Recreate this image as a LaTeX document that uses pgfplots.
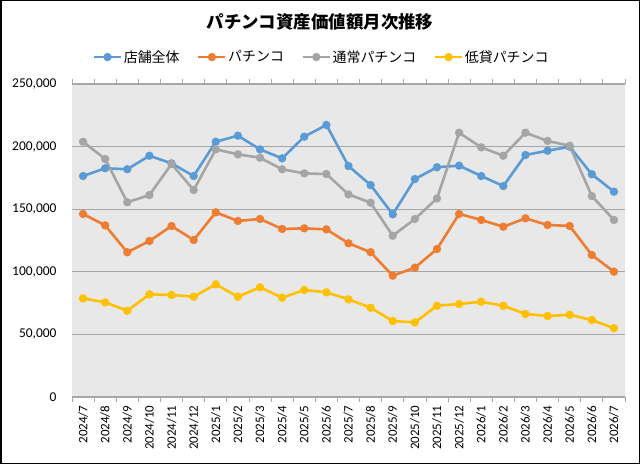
\documentclass[border=0pt]{standalone}
\usepackage{fontspec}
\setmainfont{Carlito}
\newfontfamily\cjk{Noto Sans CJK JP}
\usepackage{pgfplots}
\usepackage{pgfplotstable}
\pgfplotsset{compat=1.18}
\definecolor{cB}{HTML}{5B9BD5}
\definecolor{cO}{HTML}{ED7D31}
\definecolor{cG}{HTML}{A5A5A5}
\definecolor{cY}{HTML}{FFC000}
\definecolor{gridc}{RGB}{166,166,166}
\definecolor{bgc}{RGB}{232,232,232}
\pgfplotstableread{
x b o g y
0 176500 146200 203900 78800
1 182700 137100 190100 75600
2 181900 115600 155500 68900
3 192700 124600 161300 82000
4 186600 136600 186100 81500
5 176500 125400 165300 80100
6 203900 147500 197800 90000
7 208700 140600 193800 80100
8 197800 142200 191100 87600
9 190600 134200 181900 79300
10 207900 134700 178600 85500
11 217300 133900 178100 83600
12 184500 122800 161800 78000
13 169300 115600 155200 71300
14 145900 96900 128800 60700
15 174100 103300 142200 59600
16 183500 118200 158600 72900
17 184800 146200 211100 74300
18 176500 141400 199400 76100
19 168500 136000 192700 72900
20 193300 142700 211100 66300
21 196700 137400 204500 64700
22 199900 136600 200700 65700
23 177900 113400 160500 61500
24 164000 100100 141400 54900
}\data
\begin{document}
\begin{tikzpicture}
\useasboundingbox (0,0) rectangle (640bp,464bp);
\fill[white] (0,0) rectangle (640bp,464bp);
\draw[line width=1.5bp] (0.75bp,0.75bp) rectangle (639.25bp,463.25bp);
\node[font=\cjk\bfseries\fontsize{17.5}{20}\selectfont] at (320bp,442bp) {パチンコ資産価値額月次推移};
\begin{axis}[
  at={(72bp,67bp)}, anchor=south west,
  scale only axis, width=553bp, height=313bp,
  xmin=-0.5, xmax=24.5, ymin=0, ymax=250000,
  axis background/.style={fill=bgc},
  axis line style={draw=none},
  ytick={0,50000,100000,150000,200000,250000},
  scaled y ticks=false,
  /pgf/number format/assume math mode=true,
  yticklabel style={/pgf/number format/fixed, /pgf/number format/1000 sep={,}, font=\fontsize{13.5}{15}\selectfont},
  yticklabel shift=12bp,
  xtick={0,...,24},
  xticklabels={2024/7,2024/8,2024/9,2024/10,2024/11,2024/12,2025/1,2025/2,2025/3,2025/4,2025/5,2025/6,2025/7,2025/8,2025/9,2025/10,2025/11,2025/12,2026/1,2026/2,2026/3,2026/4,2026/5,2026/6,2026/7},
  xticklabel style={rotate=90, anchor=east, font=\fontsize{13}{15}\selectfont},
  xticklabel shift=5bp,
  minor xtick={-0.5,0.5,...,24.5},
  major tick length=0pt,
  minor tick length=5bp,
  tick align=outside,
  minor tick style={draw=gridc, line width=0.8bp},
  ymajorgrids,
  major grid style={draw=gridc, line width=1.2bp},
  every axis plot/.append style={line width=2.6bp, mark=*, mark size=2.8bp},
  legend columns=4,
  legend style={draw=none, fill=none, at={(0.451,1.086)}, anchor=center,
    font=\cjk\fontsize{14}{16}\selectfont,
    /tikz/every even column/.append style={column sep=16bp},
    nodes={inner sep=1.5bp}},
  legend image code/.code={\draw[mark repeat=2,mark phase=2] plot coordinates {(0bp,0bp) (13.5bp,0bp) (27bp,0bp)};},
]
\addplot[color=cB] table[x=x,y=b]{\data};
\addlegendentry{店舗全体}
\addplot[color=cO] table[x=x,y=o]{\data};
\addlegendentry{パチンコ}
\addplot[color=cG] table[x=x,y=g]{\data};
\addlegendentry{通常パチンコ}
\addplot[color=cY] table[x=x,y=y]{\data};
\addlegendentry{低貸パチンコ}
\end{axis}
\end{tikzpicture}
\end{document}
